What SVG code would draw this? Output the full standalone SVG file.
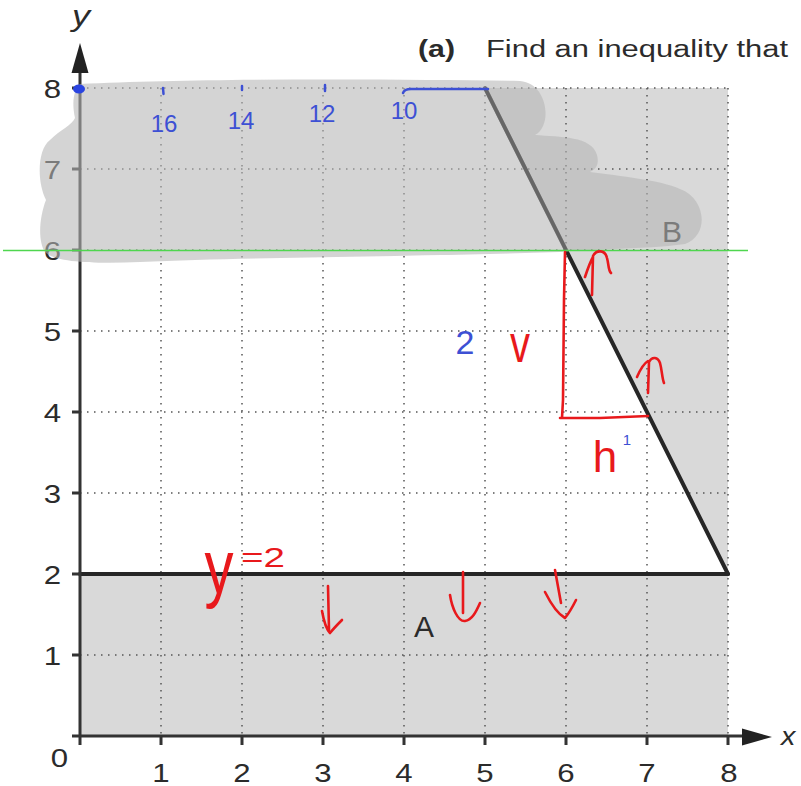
<svg xmlns="http://www.w3.org/2000/svg" width="801" height="786" viewBox="0 0 801 786">
<style>
.grid{stroke:#555;stroke-width:1.5;stroke-dasharray:1.5 5.5;fill:none}
.bound{stroke:#262626;stroke-width:4;fill:none;stroke-linecap:round}
.axis{stroke:#333;stroke-width:3;fill:none}
.tick{stroke:#333;stroke-width:3}
.lbl{font-family:"Liberation Sans",Arial,sans-serif;font-size:26px;fill:#2b2b2b}
.red{stroke:#e8191c;stroke-width:2.6;fill:none;stroke-linecap:round;stroke-linejoin:round}
.blue{stroke:#3d50d4;stroke-width:2.5;fill:none;stroke-linecap:round}
.redt{font-family:"Liberation Sans",Arial,sans-serif;fill:#e8191c}
.bluet{font-family:"Liberation Sans",Arial,sans-serif;fill:#3d50d4}
</style>
<rect width="801" height="786" fill="#ffffff"/>
<g id="regions">
<rect x="80" y="88" width="648" height="648" fill="#d9d9d9"/>
<polygon points="80,574 728,574 485,88 80,88" fill="#ffffff"/>
</g>
<g id="grid">
<path class="grid" d="M161,88V736M242,88V736M323,88V736M404,88V736M485,88V736M566,88V736M647,88V736M728,88V736"/>
<path class="grid" d="M80,655H728M80,574H728M80,493H728M80,412H728M80,331H728M80,250H728M80,169H728M80,88H728"/>
</g>
<g id="boundaries">
<line class="bound" x1="80" y1="574" x2="728" y2="574"/>
<line class="bound" x1="485" y1="88" x2="728" y2="574"/>
</g>
<g id="regionLabels">
<text class="lbl" x="424" y="637" text-anchor="middle" style="font-size:30px">A</text>
<text class="lbl" x="672" y="242" text-anchor="middle" style="font-size:30px">B</text>
</g>
<g id="axes">
<line class="axis" x1="80" y1="745" x2="80" y2="70"/>
<line class="axis" x1="72" y1="736" x2="745" y2="736"/>
<polygon points="80,43 71.5,73 88.5,73" fill="#222"/>
<polygon points="772,737 742,728.5 742,745.5" fill="#222"/>
<path class="tick" d="M72,655H80M72,574H80M72,493H80M72,412H80M72,331H80M72,250H80M72,169H80M72,88H80"/>
<path class="tick" d="M161,736V745M242,736V745M323,736V745M404,736V745M485,736V745M566,736V745M647,736V745M728,736V745"/>
<text class="lbl" transform="translate(81,26) scale(1.2,1)" text-anchor="middle" style="font-style:italic;font-size:30px">y</text>
<text class="lbl" transform="translate(781,745) scale(1.15,1)" style="font-style:italic;font-size:25px">x</text>
<g text-anchor="end">
<text class="lbl" transform="translate(61,97.5) scale(1.2,1)">8</text>
<text class="lbl" transform="translate(61,178.5) scale(1.2,1)">7</text>
<text class="lbl" transform="translate(61,259.5) scale(1.2,1)">6</text>
<text class="lbl" transform="translate(61,340.5) scale(1.2,1)">5</text>
<text class="lbl" transform="translate(61,421.5) scale(1.2,1)">4</text>
<text class="lbl" transform="translate(61,502.5) scale(1.2,1)">3</text>
<text class="lbl" transform="translate(61,583.5) scale(1.2,1)">2</text>
<text class="lbl" transform="translate(61,664.5) scale(1.2,1)">1</text>
</g>
<g text-anchor="middle">
<text class="lbl" transform="translate(59.5,767) scale(1.2,1)">0</text>
<text class="lbl" transform="translate(161,782) scale(1.2,1)">1</text>
<text class="lbl" transform="translate(242,782) scale(1.2,1)">2</text>
<text class="lbl" transform="translate(323,782) scale(1.2,1)">3</text>
<text class="lbl" transform="translate(404,782) scale(1.2,1)">4</text>
<text class="lbl" transform="translate(485,782) scale(1.2,1)">5</text>
<text class="lbl" transform="translate(566,782) scale(1.2,1)">6</text>
<text class="lbl" transform="translate(647,782) scale(1.2,1)">7</text>
<text class="lbl" transform="translate(729,782) scale(1.2,1)">8</text>
</g>
</g>
<g id="header">
<text class="lbl" x="418" y="57" textLength="37" lengthAdjust="spacingAndGlyphs" style="font-size:23px;font-weight:bold">(a)</text>
<text class="lbl" x="486" y="57" textLength="302" lengthAdjust="spacingAndGlyphs" style="font-size:23px">Find an inequality that</text>
</g>
<g id="scribble">
<path fill="#b5b5b5" fill-opacity="0.58" d="M80,84 C200,78 400,79 520,81 C548,83 553,126 535,135 C560,137 592,136 597,155 C600,166 594,170 590,172 C620,176 660,180 680,189 C707,199 709,236 685,244 C640,250 600,248 560,252 C400,257 250,257 140,262 C100,264 55,263 45,252 C37,240 40,215 46,200 C37,182 37,150 50,140 C60,130 72,125 75,118 C71,100 75,88 80,84 Z"/>
<line x1="485" y1="88" x2="566" y2="250" stroke="#5a5a5a" stroke-width="3.5" stroke-opacity="0.6"/>
</g>
<g id="greenLine">
<line x1="3" y1="250.5" x2="748" y2="250.5" stroke="#4fd64f" stroke-width="1.6"/>
</g>
<g id="blueMarks">
<ellipse cx="79" cy="89" rx="6" ry="4.5" fill="#2a44e0"/>
<path class="blue" d="M403,93 C404,90 406,89 411,89 L488,89"/>
<path class="blue" d="M163,88 L163.5,94 M242,86 L242,90 M325,85 L325,91" stroke-width="2.2"/>
<text class="bluet" x="164" y="132" text-anchor="middle" style="font-size:24px">16</text>
<text class="bluet" x="241" y="129" text-anchor="middle" style="font-size:24px">14</text>
<text class="bluet" x="322" y="122" text-anchor="middle" style="font-size:24px">12</text>
<text class="bluet" x="404" y="119" text-anchor="middle" style="font-size:24px">10</text>
<text class="bluet" x="465" y="354" text-anchor="middle" style="font-size:34px">2</text>
<text class="bluet" x="627" y="445" text-anchor="middle" style="font-size:15px">1</text>
</g>
<g id="redMarks">
<path class="red" d="M565,252 L564,300 L563,400 L562,418 M560,418 L600,418 L648,416"/>
<path class="red" d="M585,277 C588,268 590,262 593,257 M592,295 L593,256 C596,250 605,249 607,258 C609,265 608,270 611,273"/>
<path class="red" d="M637,377 C640,370 643,364 648,361 M648,393 L649,362 C652,356 658,357 660,363 C662,370 662,378 664,383"/>
<path class="red" d="M328,586 L329,630 M322,611 C324,622 327,630 330,633 C334,628 338,624 342,620"/>
<path class="red" d="M463,572 L463,613 M450,595 C452,608 458,622 465,621 C472,620 476,612 480,603"/>
<path class="red" d="M555,570 L561,603 M545,592 C550,602 558,614 565,618 C570,612 573,606 576,600"/>
<text class="redt" transform="translate(520,362) scale(1,1.3)" text-anchor="middle" style="font-size:40px">v</text>
<text class="redt" x="605" y="472" text-anchor="middle" style="font-size:44px">h</text>
<text class="redt" transform="translate(219,593) scale(1,1.3)" text-anchor="middle" style="font-size:58px">y</text>
<text class="redt" x="241" y="567" textLength="44" lengthAdjust="spacingAndGlyphs" style="font-size:28px">=2</text>
</g>
</svg>
